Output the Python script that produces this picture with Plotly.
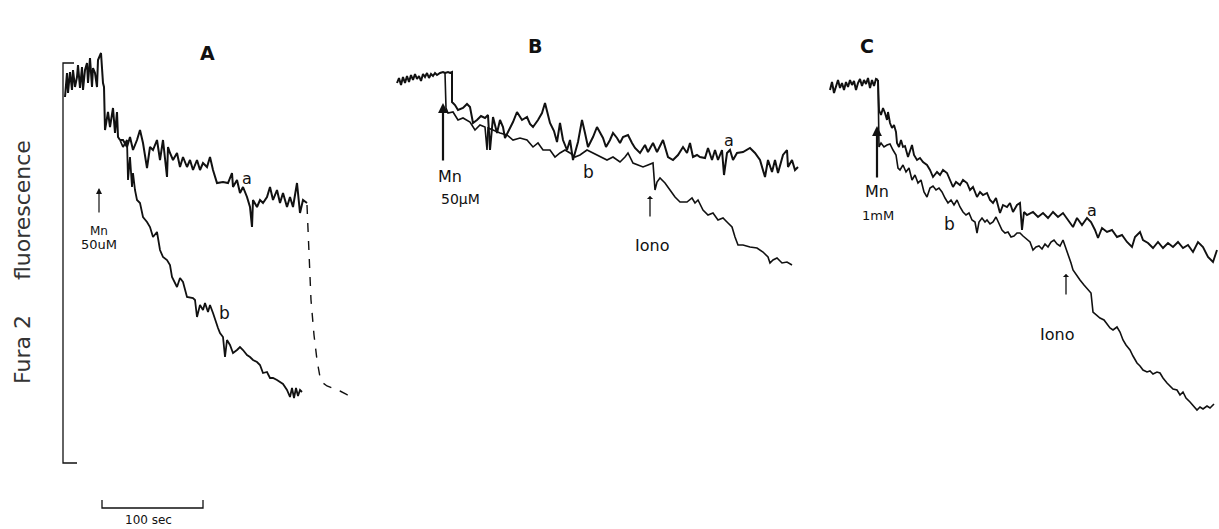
import plotly.graph_objects as go

# ---------------- Panel A (time in s; fluorescence depth, 1 unit per s-scale) ----------------
A_pre_t = [65, 67, 68, 70, 72, 73, 75, 77, 78, 80, 82, 83, 85, 87, 88, 90, 92, 93, 95, 97, 98, 101, 103, 104,
           105, 108, 110, 113, 115, 117, 118, 120]
A_pre_f = [97, 73, 93, 72, 90, 70, 87, 77, 65, 88, 67, 90, 70, 63, 83, 58, 87, 68, 73, 87, 60, 53, 83, 87,
           130, 112, 127, 108, 133, 112, 137, 140]

A_a_t = [120, 123, 127, 130, 133, 137, 140, 143, 147, 150, 153, 157, 160, 163, 167, 168, 170, 173, 177, 180,
         183, 187, 190, 193, 197, 200, 203, 207, 210, 213, 217, 223, 228, 232, 233, 237, 240, 243, 247, 250,
         252, 253, 257, 260, 263, 267, 270, 273, 277, 280, 283, 287, 290, 293, 297, 300, 303, 307]
A_a_f = [140, 140, 147, 137, 150, 140, 130, 143, 168, 147, 150, 140, 160, 140, 177, 147, 153, 160, 153, 167,
         157, 167, 160, 170, 160, 170, 163, 167, 157, 170, 183, 182, 183, 173, 187, 180, 193, 187, 197, 207,
         227, 200, 207, 200, 203, 197, 187, 200, 190, 203, 193, 207, 197, 207, 183, 213, 200, 203]

A_b_t = [120, 123, 127, 128, 130, 132, 133, 135, 137, 140, 143, 147, 150, 153, 157, 160, 163, 167, 170, 172,
         177, 180, 183, 187, 193, 195, 197, 200, 203, 205, 208, 210, 213, 215, 218, 220, 223, 225, 227, 230,
         233, 237, 240, 243, 247, 250, 253, 257, 260, 263, 267, 270, 273, 277, 280, 283, 287, 290, 292, 294,
         296, 298, 300, 302]
A_b_f = [140, 147, 140, 180, 157, 187, 173, 190, 200, 203, 217, 222, 227, 237, 232, 250, 257, 260, 265, 277,
         287, 278, 282, 297, 298, 300, 317, 305, 310, 303, 312, 305, 313, 320, 328, 333, 337, 357, 340, 345,
         353, 350, 347, 350, 355, 357, 360, 362, 365, 373, 372, 378, 378, 380, 382, 384, 390, 397, 388, 398,
         388, 396, 390, 392]

A_dash_t = [307, 309, 311, 314, 317, 320, 323, 327, 333, 340, 346, 352]
A_dash_f = [205, 250, 300, 335, 360, 377, 383, 386, 388, 391, 394, 398]

# ---------------- Panel B ----------------
B_pre_t = [397, 399, 401, 403, 405, 407, 409, 411, 413, 415, 417, 419, 421, 423, 425, 427, 429, 431, 433, 435,
           437, 440, 443, 445]
B_pre_f = [83, 78, 85, 77, 83, 76, 82, 75, 80, 74, 79, 76, 81, 74, 77, 73, 78, 74, 76, 73, 75, 73, 72, 73]

B_a_t = [445, 448, 450, 452, 452, 455, 458, 463, 467, 470, 473, 477, 481, 485, 488, 490, 493, 497, 500, 503,
         505, 508, 510, 513, 517, 522, 527, 530, 533, 538, 542, 545, 550, 554, 557, 560, 563, 567, 570, 573,
         578, 582, 585, 588, 593, 597, 603, 606, 610, 613, 617, 620, 623, 628, 632, 635, 640, 645, 648, 653,
         657, 663, 668, 673, 678, 683, 687, 690, 693, 697, 700, 705, 708, 712, 715, 718, 722, 724, 727, 730,
         733, 737, 743, 750, 755, 760, 765, 768, 772, 775, 778, 783, 787, 788, 792, 795, 798]
B_a_f = [73, 72, 73, 72, 102, 105, 110, 108, 104, 107, 123, 120, 116, 118, 115, 150, 117, 133, 120, 127,
         138, 132, 128, 122, 112, 120, 117, 124, 127, 120, 113, 103, 123, 131, 142, 123, 140, 150, 140, 160,
         142, 120, 133, 147, 137, 127, 138, 147, 140, 133, 138, 143, 137, 135, 143, 148, 153, 145, 152, 143,
         152, 140, 157, 160, 155, 147, 153, 143, 157, 155, 157, 158, 148, 160, 150, 160, 150, 175, 153, 150,
         160, 153, 152, 148, 153, 160, 177, 160, 172, 160, 173, 155, 150, 167, 160, 170, 167]

B_b_t = [445, 446, 448, 453, 458, 463, 470, 475, 480, 485, 487, 488, 493, 500, 507, 513, 520, 527, 533, 538,
         543, 550, 555, 560, 565, 570, 575, 580, 587, 593, 600, 607, 613, 620, 625, 628, 633, 638, 643, 648,
         653, 655, 657, 660, 665, 670, 675, 680, 687, 692, 695, 698, 703, 708, 713, 718, 723, 728, 732, 735,
         738, 743, 750, 757, 763, 768, 770, 773, 777, 782, 787, 792]
B_b_f = [73, 108, 113, 112, 120, 118, 122, 130, 125, 127, 150, 128, 130, 133, 135, 140, 138, 140, 147, 143,
         150, 150, 157, 153, 150, 153, 157, 155, 150, 153, 157, 160, 157, 162, 157, 153, 163, 165, 167, 165,
         163, 190, 182, 178, 183, 190, 197, 202, 202, 198, 203, 200, 210, 215, 213, 220, 218, 223, 227, 237,
         245, 245, 247, 248, 252, 257, 263, 260, 258, 263, 262, 265]

# ---------------- Panel C ----------------
C_pre_t = [830, 832, 834, 836, 838, 840, 842, 844, 846, 848, 850, 852, 854, 856, 858, 860, 862, 864, 866, 868,
           870, 872, 874, 876, 878]
C_pre_f = [90, 82, 93, 85, 80, 88, 83, 90, 82, 87, 80, 85, 81, 90, 83, 79, 86, 80, 84, 78, 88, 80, 86, 79, 80]

C_a_t = [878, 879, 881, 883, 885, 887, 888, 890, 892, 894, 896, 897, 899, 901, 903, 905, 908, 910, 912, 914,
         917, 920, 923, 927, 930, 933, 937, 940, 943, 947, 950, 953, 956, 960, 963, 967, 970, 973, 977, 980,
         983, 987, 990, 993, 996, 1000, 1003, 1007, 1010, 1013, 1017, 1020, 1022, 1024, 1027, 1033, 1038, 1043,
         1048, 1053, 1058, 1063, 1068, 1073, 1077, 1082, 1087, 1091, 1095, 1098, 1102, 1107, 1112, 1117, 1122,
         1127, 1132, 1135, 1140, 1143, 1148, 1153, 1158, 1163, 1168, 1173, 1178, 1183, 1188, 1193, 1198, 1203,
         1208, 1213, 1217]
C_a_f = [80, 110, 115, 108, 113, 120, 112, 123, 128, 125, 132, 143, 147, 140, 147, 146, 157, 150, 145, 155,
         160, 158, 162, 165, 170, 177, 172, 175, 170, 173, 180, 187, 182, 185, 180, 183, 190, 187, 197, 192,
         195, 193, 200, 203, 198, 213, 205, 207, 203, 212, 205, 203, 230, 212, 215, 212, 217, 213,
         218, 212, 217, 213, 220, 227, 218, 225, 218, 222, 230, 238, 228, 232, 230, 237, 235,
         242, 247, 237, 232, 240, 243, 248, 242, 248, 243, 247, 242, 248, 245, 252, 242, 247,
         257, 262, 250]

C_b_t = [878, 879, 881, 884, 887, 890, 893, 896, 898, 900, 903, 906, 909, 912, 915, 918, 921, 924, 927, 930,
         933, 936, 939, 942, 945, 948, 951, 954, 957, 960, 963, 966, 969, 972, 975, 977, 979, 982, 985, 987,
         990, 993, 996, 999, 1002, 1005, 1008, 1011, 1014, 1017, 1020, 1023, 1027, 1030, 1033, 1036, 1039,
         1042, 1045, 1048, 1051, 1054, 1057, 1060, 1063, 1066, 1068, 1071, 1073, 1077, 1080, 1084, 1088, 1091,
         1093, 1096, 1100, 1104, 1107, 1110, 1113, 1117, 1120, 1123, 1126, 1130, 1133, 1137, 1140, 1143, 1147,
         1150, 1153, 1157, 1160, 1163, 1167, 1170, 1173, 1177, 1180, 1183, 1186, 1190, 1193, 1197, 1200, 1203,
         1207, 1210, 1214]
C_b_f = [80, 147, 143, 147, 145, 144, 150, 155, 168, 170, 165, 172, 168, 180, 175, 183, 180, 192, 197, 188,
         186, 190, 188, 192, 198, 203, 200, 205, 200, 207, 212, 215, 213, 220, 222, 233, 222, 218, 222, 220,
         224, 222, 217, 224, 230, 233, 232, 237, 236, 233, 233, 236, 240, 242, 250, 247, 246,
         249, 244, 247, 242, 240, 244, 246, 240, 248, 255, 263, 270, 276, 280, 285, 290, 293,
         312, 315, 318, 320, 324, 328, 330, 327, 332, 340, 345, 350, 356, 363, 366, 370, 372,
         371, 374, 372, 373, 378, 383, 386, 389, 390, 395, 392, 398, 402, 405, 410, 407, 409,
         406, 408, 404]

# scale bars (A panel): fluorescence bracket and 100 s bar
SCALE_F_T = [74, 63, 63, 77]
SCALE_F_F = [63, 63, 463, 463]
SCALE_T_T = [102, 102, 203, 203]
SCALE_T_F = [500, 508, 508, 500]

FONT = "DejaVu Sans"
INK = "#111111"

fig = go.Figure()

def line(t, f, w=1.6, dash="solid"):
    fig.add_trace(go.Scatter(x=t, y=f, mode="lines",
                             line=dict(color=INK, width=w, dash=dash, shape="linear"),
                             hoverinfo="skip", showlegend=False))

line(A_pre_t, A_pre_f, 2.0)
line(A_a_t, A_a_f, 2.0)
line(A_b_t, A_b_f, 1.8)
line(A_dash_t, A_dash_f, 1.4, "dash")
line(B_pre_t, B_pre_f, 2.0)
line(B_a_t, B_a_f, 2.0)
line(B_b_t, B_b_f, 1.6)
line(C_pre_t, C_pre_f, 2.0)
line(C_a_t, C_a_f, 1.9)
line(C_b_t, C_b_f, 1.6)
line(SCALE_F_T, SCALE_F_F, 1.3)
line(SCALE_T_T, SCALE_T_F, 1.3)

ann = []
def text(x, y, s, size=15, color=INK, angle=0):
    ann.append(dict(x=x, y=y, xref="x", yref="y", text=s, showarrow=False,
                    font=dict(family=FONT, size=size, color=color), textangle=angle))

def arrow(x, y, ax, ay, w=1.2, head=2, size=1.0):
    ann.append(dict(x=x, y=y, ax=ax, ay=ay, xref="x", yref="y", axref="x", ayref="y",
                    text="", showarrow=True, arrowhead=head, arrowwidth=w, arrowsize=size,
                    arrowcolor=INK))

# panel titles
text(207, 53, "<b>A</b>", 19)
text(535, 46, "<b>B</b>", 19)
text(867, 46, "<b>C</b>", 19)

# y label
text(22, 262, "Fura 2     fluorescence", 22, "#333333", -90)

# panel A labels
arrow(99, 188, 99, 214, 1.2, 2, 1.0)
text(99, 231, "Mn", 12)
text(99, 244, "50uM", 13)
text(247, 178, "a", 16)
text(224, 313, "b", 17)
text(148, 520, "100 sec", 12)

# panel B labels
arrow(443, 103, 443, 162, 2.2, 2, 0.9)
text(450, 176, "Mn", 16)
text(460, 199, "50μM", 14)
text(729, 140, "a", 16)
text(588, 172, "b", 17)
arrow(650, 196, 650, 218, 1.3, 1, 0.8)
text(652, 245, "Iono", 16)

# panel C labels
arrow(877, 126, 877, 179, 2.2, 2, 0.9)
text(877, 191, "Mn", 16)
text(878, 215, "1mM", 13)
text(1092, 210, "a", 16)
text(949, 224, "b", 17)
arrow(1066, 274, 1066, 296, 1.3, 1, 0.8)
text(1057, 334, "Iono", 16)

fig.update_layout(
    width=1219, height=529,
    margin=dict(l=0, r=0, t=0, b=0),
    paper_bgcolor="white", plot_bgcolor="white",
    xaxis=dict(range=[0, 1219], visible=False, fixedrange=True),
    yaxis=dict(range=[529, 0], visible=False, fixedrange=True),
    annotations=ann,
    showlegend=False,
)

fig.write_html("out.html",
               config={"displayModeBar": False},
               post_script="document.body.style.margin='0';document.body.style.overflow='hidden';")
